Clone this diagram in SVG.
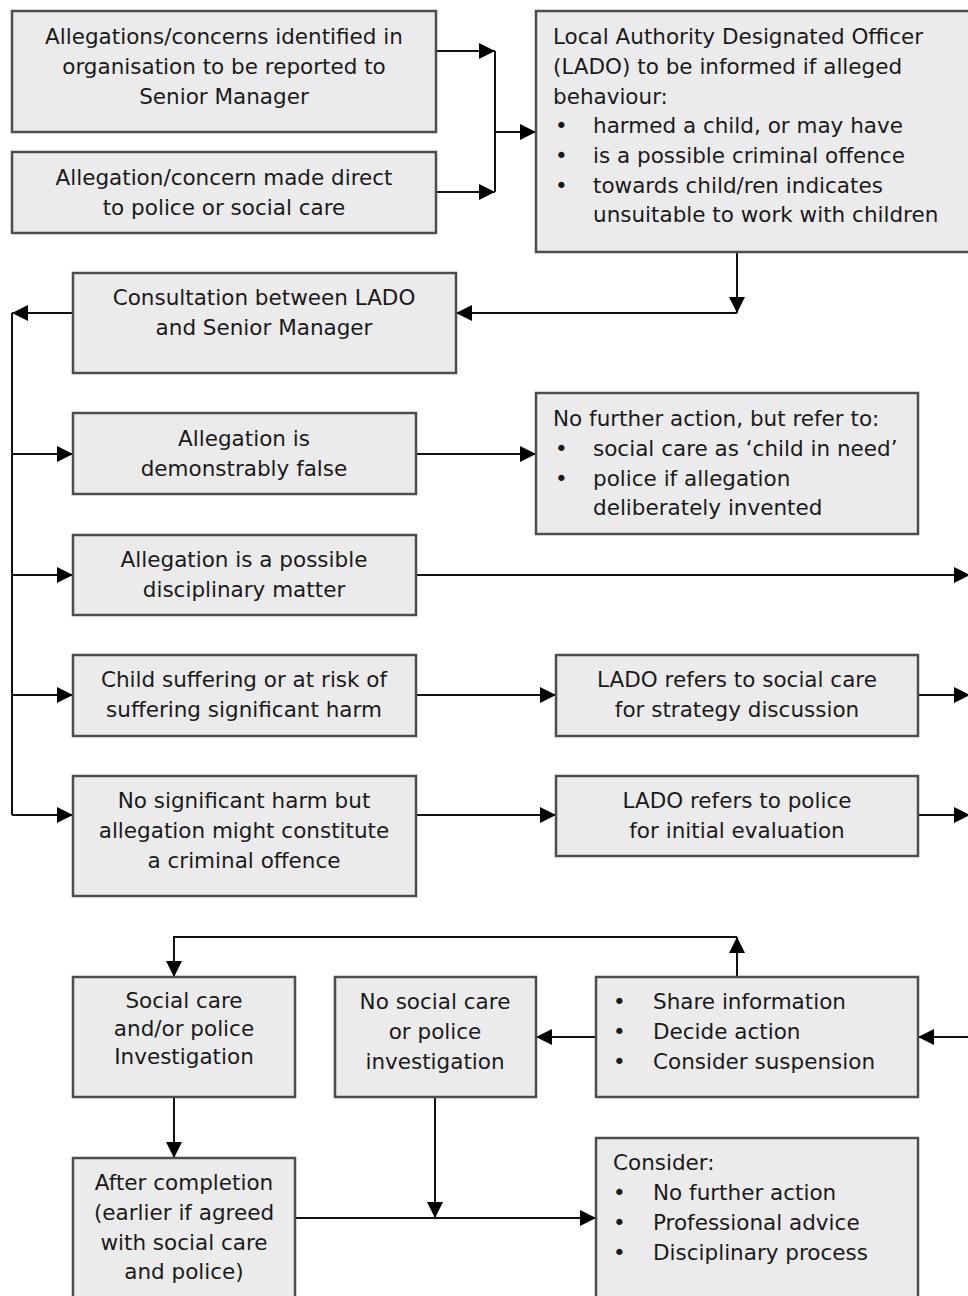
<svg xmlns="http://www.w3.org/2000/svg" width="968" height="1296" viewBox="0 0 968 1296">
<defs>
<marker id="ah" markerUnits="userSpaceOnUse" markerWidth="18" markerHeight="16" refX="16" refY="8" orient="auto">
<path d="M0,0 L16,8 L0,16 Z" fill="#000"/>
</marker>
<style>
.box{fill:#ebebeb;stroke:#4d4d4d;stroke-width:2.5}
.t{font-family:"DejaVu Sans",Verdana,sans-serif;font-size:21.5px;fill:#1a1a1a}
.c{text-anchor:middle}
.ln{fill:none;stroke:#111;stroke-width:2}
.ar{fill:none;stroke:#111;stroke-width:2;marker-end:url(#ah)}
</style>
</defs>
<rect width="968" height="1296" fill="#fff"/>

<g id="connectors">
<path class="ar" d="M436,51 H495"/>
<path class="ar" d="M436,192 H495"/>
<path class="ln" d="M495,51 V192"/>
<path class="ar" d="M495,132 H536"/>
<path class="ar" d="M737,252 V313"/>
<path class="ar" d="M737,313 H456"/>
<path class="ar" d="M73,313 H12"/>
<path class="ln" d="M12,313 V815"/>
<path class="ar" d="M12,454 H73"/>
<path class="ar" d="M12,575 H73"/>
<path class="ar" d="M12,695 H73"/>
<path class="ar" d="M12,815 H73"/>
<path class="ar" d="M416,454 H536"/>
<path class="ar" d="M416,575 H970"/>
<path class="ar" d="M416,695 H556"/>
<path class="ar" d="M918,695 H970"/>
<path class="ar" d="M416,815 H556"/>
<path class="ar" d="M918,815 H970"/>
<path class="ar" d="M970,1037 H918"/>
<path class="ar" d="M596,1037 H536"/>
<path class="ar" d="M737,977 V937"/>
<path class="ar" d="M737,937 H174 V977"/>
<path class="ar" d="M174,1097 V1158"/>
<path class="ar" d="M435,1097 V1218"/>
<path class="ar" d="M295,1218 H596"/>
</g>

<g id="n1">
<rect class="box" x="12" y="11" width="424" height="121"/>
<text class="t c" x="224" y="44">Allegations/concerns identified in</text>
<text class="t c" x="224" y="74">organisation to be reported to</text>
<text class="t c" x="224" y="104">Senior Manager</text>
</g>
<g id="n2">
<rect class="box" x="12" y="152" width="424" height="81"/>
<text class="t c" x="224" y="185">Allegation/concern made direct</text>
<text class="t c" x="224" y="215">to police or social care</text>
</g>
<g id="n3">
<rect class="box" x="536" y="11" width="440" height="241"/>
<text class="t" x="553" y="44">Local Authority Designated Officer</text>
<text class="t" x="553" y="74">(LADO) to be informed if alleged</text>
<text class="t" x="553" y="104">behaviour:</text>
<text class="t" x="555" y="133">•</text><text class="t" x="593" y="133">harmed a child, or may have</text>
<text class="t" x="555" y="163">•</text><text class="t" x="593" y="163">is a possible criminal offence</text>
<text class="t" x="555" y="193">•</text><text class="t" x="593" y="193">towards child/ren indicates</text>
<text class="t" x="593" y="222">unsuitable to work with children</text>
</g>
<g id="n4">
<rect class="box" x="73" y="273" width="383" height="100"/>
<text class="t c" x="264" y="305">Consultation between LADO</text>
<text class="t c" x="264" y="335">and Senior Manager</text>
</g>
<g id="n5">
<rect class="box" x="73" y="413" width="343" height="81"/>
<text class="t c" x="244" y="446">Allegation is</text>
<text class="t c" x="244" y="476">demonstrably false</text>
</g>
<g id="n6">
<rect class="box" x="536" y="393" width="382" height="141"/>
<text class="t" x="553" y="426">No further action, but refer to:</text>
<text class="t" x="555" y="456">•</text><text class="t" x="593" y="456">social care as ‘child in need’</text>
<text class="t" x="555" y="486">•</text><text class="t" x="593" y="486">police if allegation</text>
<text class="t" x="593" y="515">deliberately invented</text>
</g>
<g id="n7">
<rect class="box" x="73" y="535" width="343" height="80"/>
<text class="t c" x="244" y="567">Allegation is a possible</text>
<text class="t c" x="244" y="597">disciplinary matter</text>
</g>
<g id="n8">
<rect class="box" x="73" y="655" width="343" height="81"/>
<text class="t c" x="244" y="687">Child suffering or at risk of</text>
<text class="t c" x="244" y="717">suffering significant harm</text>
</g>
<g id="n9">
<rect class="box" x="556" y="655" width="362" height="81"/>
<text class="t c" x="737" y="687">LADO refers to social care</text>
<text class="t c" x="737" y="717">for strategy discussion</text>
</g>
<g id="n10">
<rect class="box" x="73" y="776" width="343" height="120"/>
<text class="t c" x="244" y="808">No significant harm but</text>
<text class="t c" x="244" y="838">allegation might constitute</text>
<text class="t c" x="244" y="868">a criminal offence</text>
</g>
<g id="n11">
<rect class="box" x="556" y="776" width="362" height="80"/>
<text class="t c" x="737" y="808">LADO refers to police</text>
<text class="t c" x="737" y="838">for initial evaluation</text>
</g>
<g id="n12">
<rect class="box" x="73" y="977" width="222" height="120"/>
<text class="t c" x="184" y="1008">Social care</text>
<text class="t c" x="184" y="1036">and/or police</text>
<text class="t c" x="184" y="1064">Investigation</text>
</g>
<g id="n13">
<rect class="box" x="335" y="977" width="201" height="120"/>
<text class="t c" x="435" y="1009">No social care</text>
<text class="t c" x="435" y="1039">or police</text>
<text class="t c" x="435" y="1069">investigation</text>
</g>
<g id="n14">
<rect class="box" x="596" y="977" width="322" height="120"/>
<text class="t" x="613" y="1009">•</text><text class="t" x="653" y="1009">Share information</text>
<text class="t" x="613" y="1039">•</text><text class="t" x="653" y="1039">Decide action</text>
<text class="t" x="613" y="1069">•</text><text class="t" x="653" y="1069">Consider suspension</text>
</g>
<g id="n15">
<rect class="box" x="73" y="1158" width="222" height="150"/>
<text class="t c" x="184" y="1190">After completion</text>
<text class="t c" x="184" y="1220">(earlier if agreed</text>
<text class="t c" x="184" y="1250">with social care</text>
<text class="t c" x="184" y="1279">and police)</text>
</g>
<g id="n16">
<rect class="box" x="596" y="1138" width="322" height="170"/>
<text class="t" x="613" y="1170">Consider:</text>
<text class="t" x="613" y="1200">•</text><text class="t" x="653" y="1200">No further action</text>
<text class="t" x="613" y="1230">•</text><text class="t" x="653" y="1230">Professional advice</text>
<text class="t" x="613" y="1260">•</text><text class="t" x="653" y="1260">Disciplinary process</text>
</g>
</svg>
